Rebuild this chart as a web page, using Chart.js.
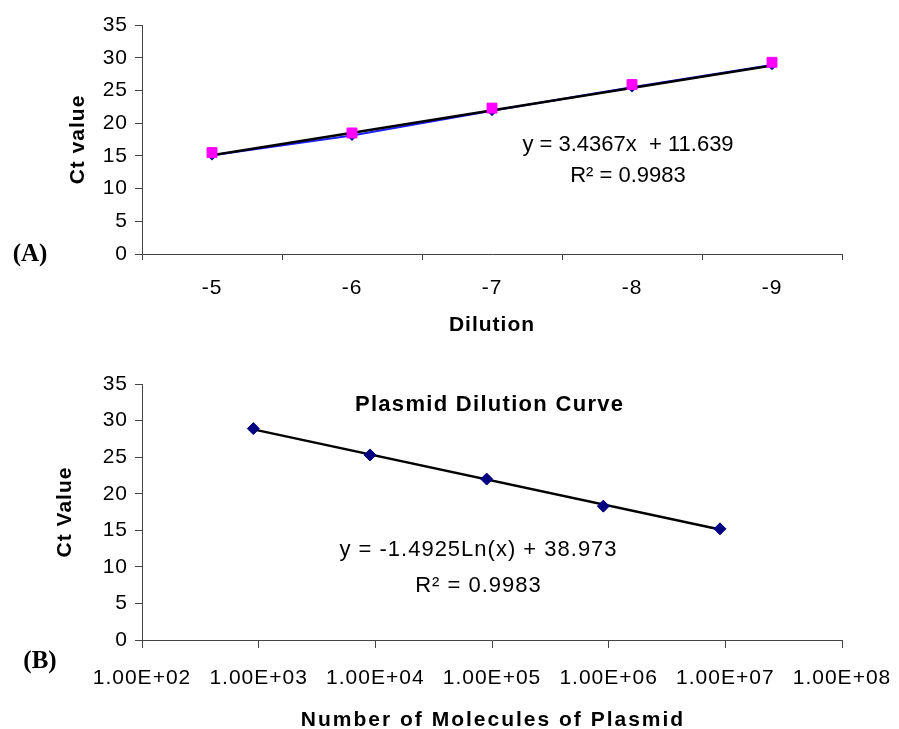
<!DOCTYPE html>
<html>
<head>
<meta charset="utf-8">
<script src="https://cdn.jsdelivr.net/npm/chart.js@4.4.1/dist/chart.umd.min.js"></script>
<style>
  html, body { margin: 0; padding: 0; background: #fff; }
  .wrap { position: absolute; left: 0; width: 899px; }
  #topWrap { top: 0; height: 340px; }
  #botWrap { top: 340px; height: 389px; }
</style>
</head>
<body>
<div class="wrap" id="topWrap"><canvas id="chartA" width="899" height="340"></canvas></div>
<div class="wrap" id="botWrap"><canvas id="chartB" width="899" height="389"></canvas></div>
<script>
// (A) dilution series
const dilutionLabels = ['-5', '-6', '-7', '-8', '-9'];
const ctRepA = [15.5, 18.5, 22.3, 25.9, 29.3];   // magenta squares
const ctRepB = [15.1, 18.1, 21.9, 25.5, 28.9];   // blue diamonds
const trendA = [15.1, null, null, null, 28.8];   // linear fit ends

// (B) plasmid standard curve
const molecules = [900, 9000, 90000, 900000, 9000000];
const ctPlasmid = [28.9, 25.3, 22.0, 18.3, 15.2];
const trendBx = [900, 9000000];
const trendBy = [28.8, 15.1];
const logTicks = [1e2, 1e3, 1e4, 1e5, 1e6, 1e7, 1e8];
const logTickLabels = ['1.00E+02', '1.00E+03', '1.00E+04', '1.00E+05', '1.00E+06', '1.00E+07', '1.00E+08'];

const axisColor = '#444';
const sans = "'Liberation Sans', Arial, sans-serif";
const serif = "'Liberation Serif', 'Times New Roman', serif";

// the old Excel export has wide letter spacing, mimic it for every text on the canvas
const spacing = {
  id: 'spacing',
  beforeLayout(chart) { chart.ctx.letterSpacing = '1px'; },
  beforeDraw(chart) { chart.ctx.letterSpacing = '1px'; }
};

// plain text annotations drawn after the chart
const notes = {
  id: 'notes',
  afterDraw(chart, args, opts) {
    const ctx = chart.ctx;
    (opts.items || []).forEach((t) => {
      ctx.save();
      ctx.font = t.font;
      ctx.letterSpacing = (t.ls || 0) + 'px';
      ctx.fillStyle = '#000';
      ctx.textAlign = 'center';
      ctx.textBaseline = 'middle';
      ctx.fillText(t.text, t.x + (t.ls || 0) / 2, t.y);
      ctx.restore();
    });
  }
};

function noSidePad(s) { s.paddingLeft = 0; s.paddingRight = 0; }

function yAxis(title, titlePad) {
  return {
    min: 0, max: 35,
    afterFit: (s) => { s.width = 142; },
    border: { color: axisColor, width: 1 },
    grid: { drawOnChartArea: false, color: axisColor, tickLength: 7 },
    ticks: { stepSize: 5, color: '#000', padding: 7, font: { family: sans, size: 21 } },
    title: { display: true, text: title, color: '#000', padding: { top: titlePad }, font: { family: sans, size: 21, weight: 'bold' } }
  };
}

new Chart(document.getElementById('chartA'), {
  type: 'line',
  data: {
    labels: dilutionLabels,
    datasets: [
      { data: ctRepA, showLine: false, pointStyle: 'rect', pointRadius: 7, pointBackgroundColor: '#ff00ff', pointBorderColor: '#ff00ff' },
      { data: trendA, spanGaps: true, borderColor: '#000', borderWidth: 2.5, pointRadius: 0 },
      { data: ctRepB, borderColor: '#1f1fff', borderWidth: 2, pointStyle: 'rectRot', pointRadius: 4, pointBackgroundColor: '#10109a', pointBorderColor: '#10109a' }
    ]
  },
  options: {
    responsive: false,
    animation: false,
    layout: { padding: { top: 25, right: 57, left: 0, bottom: 0 } },
    plugins: {
      legend: { display: false },
      tooltip: { enabled: false },
      notes: { items: [
        { text: 'y = 3.4367x  + 11.639', x: 628, y: 145, font: '22px ' + sans },
        { text: 'R² = 0.9983', x: 628, y: 176, font: '22px ' + sans },
        { text: '(A)', x: 30, y: 255, font: 'bold 25px ' + serif }
      ] }
    },
    scales: {
      x: {
        offset: true,
        afterFit: (s) => { s.height = 86; noSidePad(s); },
        border: { color: axisColor, width: 1 },
        grid: { offset: true, drawOnChartArea: false, color: axisColor, tickLength: 6 },
        ticks: { color: '#000', padding: 16, font: { family: sans, size: 21 } },
        title: { display: true, text: 'Dilution', color: '#000', padding: { bottom: 2 }, font: { family: sans, size: 21, weight: 'bold' } }
      },
      y: yAxis('Ct value', 66)
    }
  },
  plugins: [spacing, notes]
});

new Chart(document.getElementById('chartB'), {
  type: 'scatter',
  data: {
    datasets: [
      { data: molecules.map((m, i) => ({ x: m, y: ctPlasmid[i] })), pointStyle: 'rectRot', pointRadius: 6, pointBackgroundColor: '#000080', pointBorderColor: '#000080' },
      { data: trendBx.map((m, i) => ({ x: m, y: trendBy[i] })), showLine: true, borderColor: '#000', borderWidth: 2.5, pointRadius: 0 }
    ]
  },
  options: {
    responsive: false,
    animation: false,
    layout: { padding: { top: 44, right: 57, left: 0, bottom: 0 } },
    plugins: {
      legend: { display: false },
      tooltip: { enabled: false },
      notes: { items: [
        { text: 'Plasmid Dilution Curve', x: 489, y: 65, font: 'bold 22px ' + sans, ls: 1.3 },
        { text: 'y = -1.4925Ln(x) + 38.973', x: 478, y: 210, font: '22px ' + sans, ls: 1 },
        { text: 'R² = 0.9983', x: 478, y: 246, font: '22px ' + sans, ls: 1 },
        { text: 'Number of Molecules of Plasmid', x: 492, y: 380, font: 'bold 21px ' + sans, ls: 2 },
        { text: '(B)', x: 40, y: 322, font: 'bold 25px ' + serif }
      ] }
    },
    scales: {
      x: {
        type: 'logarithmic',
        min: logTicks[0], max: logTicks[logTicks.length - 1],
        afterFit: (s) => { s.height = 89; noSidePad(s); },
        afterBuildTicks: (s) => { s.ticks = logTicks.map((v) => ({ value: v })); },
        border: { color: axisColor, width: 1 },
        grid: { drawOnChartArea: false, color: axisColor, tickLength: 8 },
        ticks: {
          color: '#000', padding: 18, maxRotation: 0, autoSkip: false,
          font: { family: sans, size: 21 },
          callback: (v) => logTickLabels[logTicks.indexOf(v)] ?? ''
        }
      },
      y: yAxis('Ct Value', 53)
    }
  },
  plugins: [spacing, notes]
});
</script>
</body>
</html>
